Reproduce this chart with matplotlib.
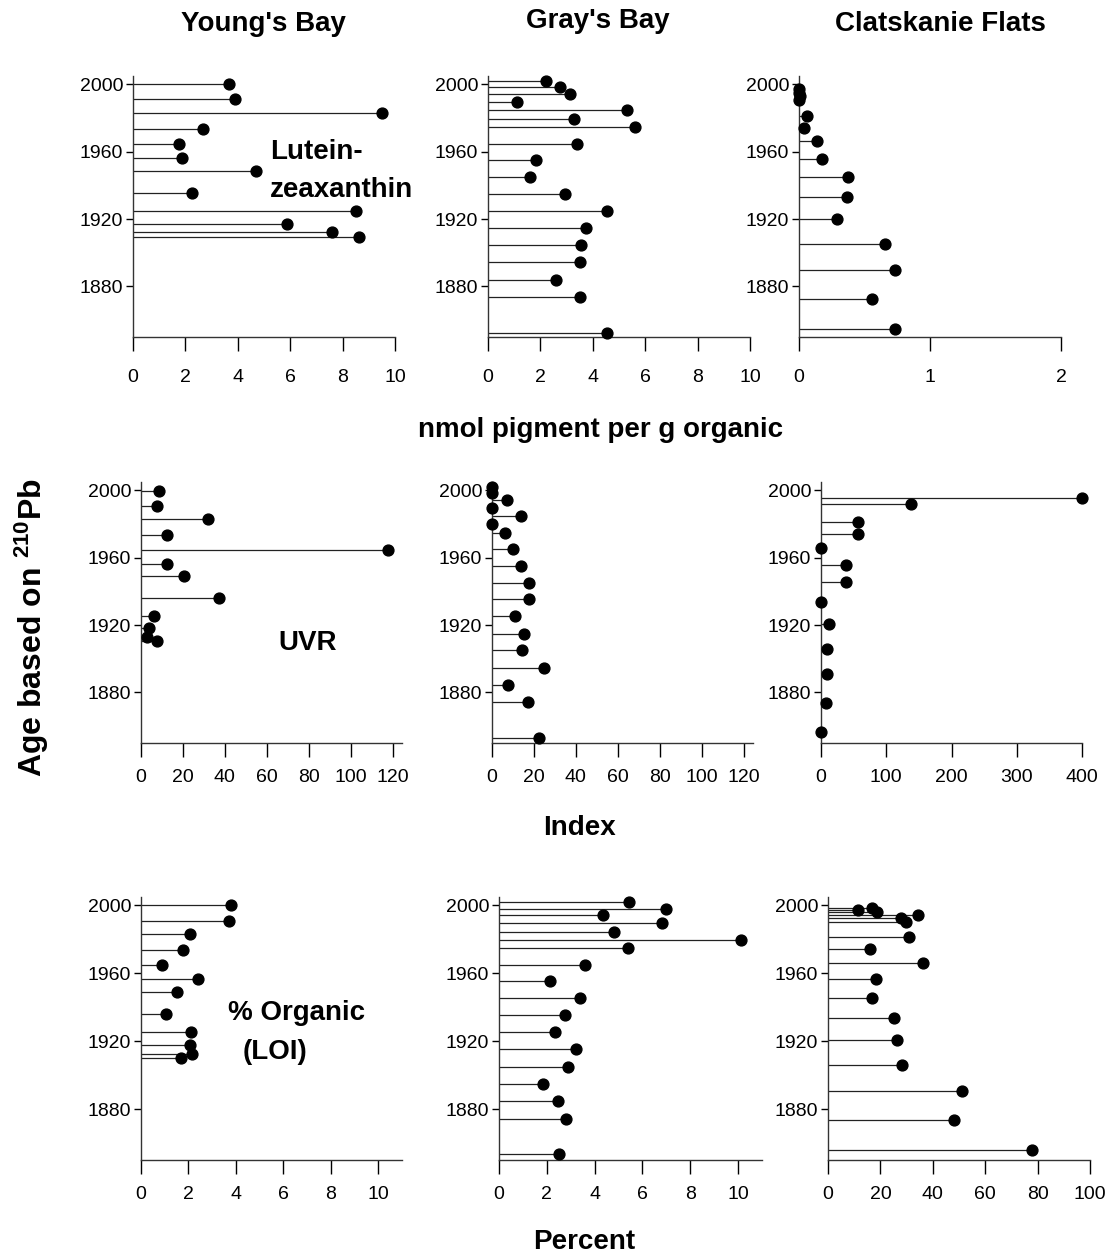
import matplotlib
matplotlib.use("Agg")
import matplotlib.pyplot as plt

plt.rcParams['font.family'] = ['Liberation Sans', 'DejaVu Sans']

# ---- Lutein-zeaxanthin (nmol pigment per g organic) ----
yb_lut_year = [2000, 1991.2, 1983.1, 1973.7, 1964.6, 1956.2, 1948.7, 1935.5, 1925, 1917, 1912.1, 1909.5]
yb_lut_val = [3.66, 3.88, 9.51, 2.68, 1.76, 1.87, 4.69, 2.26, 8.5, 5.86, 7.61, 8.63]

gb_lut_year = [2002.2, 1998.4, 1994.5, 1989.5, 1984.7, 1979.6, 1974.8, 1964.9, 1955.2, 1945,
               1935.1, 1925, 1914.8, 1904.5, 1894.4, 1883.8, 1873.5, 1852.4]
gb_lut_val = [2.21, 2.75, 3.12, 1.09, 5.31, 3.28, 5.62, 3.38, 1.83, 1.59,
              2.93, 4.54, 3.73, 3.55, 3.5, 2.58, 3.5, 4.54]

cf_lut_year = [1997.5, 1995, 1993, 1990.5, 1981.5, 1974.3, 1966.2, 1956, 1945.3, 1933.3,
               1919.8, 1905.5, 1889.6, 1872.8, 1854.7]
cf_lut_val = [0.0, 0.0, 0.005, 0.0, 0.06, 0.04, 0.135, 0.176, 0.372, 0.365,
              0.293, 0.653, 0.735, 0.556, 0.735]

# ---- UVR index ----
yb_uvr_year = [1999.6, 1991, 1983, 1973.5, 1964.7, 1956.5, 1949, 1935.9, 1925.6, 1918, 1913, 1910.4]
yb_uvr_val = [8.7, 7.5, 32, 12.2, 117.8, 12.2, 20.6, 37.3, 6.0, 4.0, 3.0, 7.5]

gb_uvr_year = [2002.2, 1998.7, 1994.4, 1989.6, 1984.7, 1979.8, 1974.8, 1965, 1955, 1945.2,
               1935.3, 1925.3, 1915, 1905, 1894.7, 1884.5, 1874.3, 1853.2]
gb_uvr_val = [0, 0, 7.0, 0, 14.0, 0, 6.1, 10.1, 14.0, 17.5,
              17.5, 11.0, 15.3, 14.3, 24.6, 7.6, 17.2, 22.5]

cf_uvr_year = [1995.7, 1992, 1981.4, 1974.3, 1966, 1956, 1945.5, 1933.7, 1920.6, 1906, 1890.7, 1874, 1856.4]
cf_uvr_val = [400, 138.5, 56, 56, 0, 38.5, 38.5, 0, 12.8, 9.7, 9.7, 7.7, 0]

# ---- % Organic (LOI) ----
yb_loi_year = [2000, 1991.1, 1983.3, 1973.8, 1964.9, 1956.6, 1949.1, 1936.3, 1925.7, 1917.8, 1912.7, 1909.9]
yb_loi_val = [3.81, 3.7, 2.06, 1.75, 0.87, 2.41, 1.53, 1.05, 2.1, 2.06, 2.13, 1.69]

gb_loi_year = [2002, 1998, 1994.5, 1989.5, 1984.6, 1979.7, 1974.9, 1965.1, 1955.2, 1945.4,
               1935.3, 1925.4, 1915.2, 1904.9, 1895, 1884.6, 1874.3, 1853.5]
gb_loi_val = [5.43, 6.97, 4.33, 6.83, 4.8, 10.11, 5.39, 3.58, 2.14, 3.4,
              2.77, 2.35, 3.22, 2.89, 1.84, 2.47, 2.8, 2.49]

cf_loi_year = [1997.3, 1998.5, 1996.1, 1994.5, 1992.6, 1990, 1981.7, 1974.4, 1966.1, 1956.4,
               1945.6, 1933.7, 1920.5, 1906.1, 1890.7, 1873.7, 1856]
cf_loi_val = [11.3, 16.7, 18.8, 34.4, 27.9, 29.8, 30.8, 15.9, 36.3, 18.3,
              16.7, 25.3, 26.4, 28.3, 51.1, 48.1, 77.7]

sites = ["Young's Bay", "Gray's Bay", "Clatskanie Flats"]
year_ticks = [1880, 1920, 1960, 2000]

W, H = 1110, 1258
fig = plt.figure(figsize=(W / 100, H / 100), dpi=100)


def px_axes(left, top, right, bottom):
    return fig.add_axes([left / W, 1 - bottom / H, (right - left) / W, (bottom - top) / H])


def panel(ax, years, vals, xlim, xticks, xpad=9):
    ax.hlines(years, 0, vals, color='#222222', lw=0.9)
    ax.plot(vals, years, 'o', color='black', ms=7.8, clip_on=False, zorder=3)
    ax.set_xlim(*xlim)
    ax.set_ylim(1850, 2005)
    ax.set_xticks(xticks)
    ax.set_yticks(year_ticks)
    for s in ['top', 'right']:
        ax.spines[s].set_visible(False)
    for s in ['left', 'bottom']:
        ax.spines[s].set_linewidth(1.0)
        ax.spines[s].set_color('#333333')
    ax.tick_params(axis='x', direction='out', length=10, width=1.0, pad=xpad, labelsize=14)
    ax.tick_params(axis='y', direction='out', length=5, width=1.0, pad=2, labelsize=14)


# row 1
a = px_axes(133, 76, 395, 337)
panel(a, yb_lut_year, yb_lut_val, (0, 10), [0, 2, 4, 6, 8, 10], xpad=13)
a = px_axes(488, 76, 750, 337)
panel(a, gb_lut_year, gb_lut_val, (0, 10), [0, 2, 4, 6, 8, 10], xpad=13)
a = px_axes(799, 76, 1061, 337)
panel(a, cf_lut_year, cf_lut_val, (0, 2), [0, 1, 2], xpad=13)

# row 2
a = px_axes(141, 482, 402, 743)
panel(a, yb_uvr_year, yb_uvr_val, (0, 124.5), [0, 20, 40, 60, 80, 100, 120])
a = px_axes(492, 482, 753, 743)
panel(a, gb_uvr_year, gb_uvr_val, (0, 124.5), [0, 20, 40, 60, 80, 100, 120])
a = px_axes(821, 482, 1082, 743)
panel(a, cf_uvr_year, cf_uvr_val, (0, 400), [0, 100, 200, 300, 400])

# row 3
a = px_axes(141, 897, 402, 1160)
panel(a, yb_loi_year, yb_loi_val, (0, 11), [0, 2, 4, 6, 8, 10])
a = px_axes(499, 897, 762, 1160)
panel(a, gb_loi_year, gb_loi_val, (0, 11), [0, 2, 4, 6, 8, 10])
a = px_axes(828, 897, 1090, 1160)
panel(a, cf_loi_year, cf_loi_val, (0, 100), [0, 20, 40, 60, 80, 100])


def ftext(x, y, s, **kw):
    kw.setdefault('fontsize', 20)
    kw.setdefault('fontweight', 'bold')
    kw.setdefault('va', 'center')
    kw.setdefault('ha', 'center')
    fig.text(x / W, 1 - y / H, s, **kw)


ftext(263, 24, sites[0])
ftext(598, 21, sites[1])
ftext(940, 24, sites[2])

ftext(601, 430, 'nmol pigment per g organic')
ftext(579, 828, 'Index')
ftext(584, 1242, 'Percent')
ftext(32, 628, r'Age based on $\mathregular{^{210}}$Pb', rotation=90, fontsize=23)

ftext(270, 152, 'Lutein-', ha='left')
ftext(270, 190, 'zeaxanthin', ha='left')
ftext(308, 643, 'UVR')
ftext(228, 1013, '% Organic', ha='left')
ftext(243, 1052, '(LOI)', ha='left')

fig.savefig('out.png', dpi=100)
